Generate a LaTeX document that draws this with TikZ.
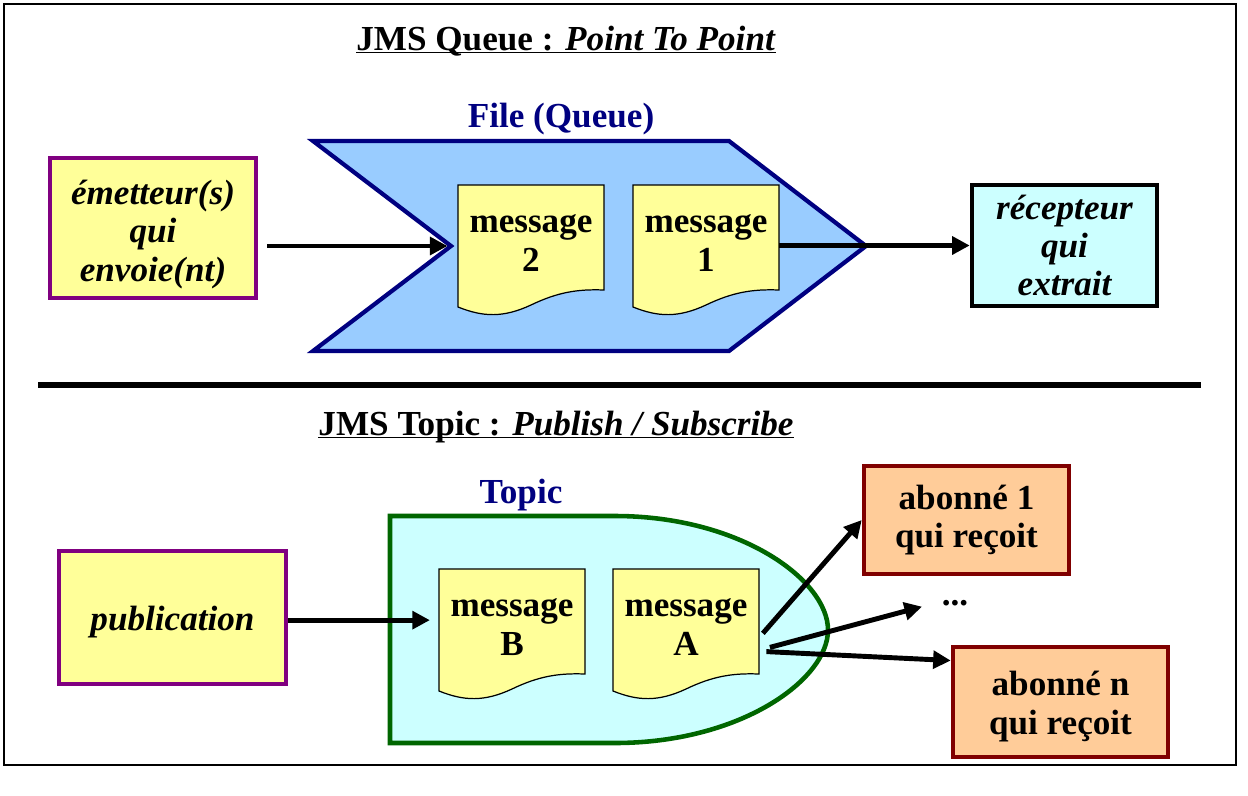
\documentclass[tikz,border=0pt]{standalone}
\usepackage{fontspec}
\setmainfont{Liberation Serif}
\usetikzlibrary{arrows.meta}
\definecolor{qblue}{HTML}{99CCFF}
\definecolor{qnavy}{HTML}{000080}
\definecolor{paleyellow}{HTML}{FFFF99}
\definecolor{boxpurple}{HTML}{800080}
\definecolor{palecyan}{HTML}{CCFFFF}
\definecolor{topicgreen}{HTML}{006600}
\definecolor{paleorange}{HTML}{FFCC99}
\definecolor{boxred}{HTML}{800000}
\newcommand{\bigbf}{\bfseries\fontsize{20}{21.8}\selectfont}

\begin{document}
\begin{tikzpicture}[x=0.02cm,y=-0.02cm,font=\bigbf,
    box/.style={draw,line width=2.6pt,align=center,inner sep=0pt},
    doc/.style={draw=black,line width=0.7pt,fill=paleyellow},
    msg/.style={align=center,minimum width=2.92cm,inner sep=0pt},
    arr/.style={line width=2.8pt,-{Triangle[length=10pt,width=10pt]}}]
  \useasboundingbox (0,0) rectangle (1248,795);
  \draw[line width=0.8pt] (4,4) rectangle (1236,765);

  % point to point
  \node[anchor=base] (qtitle) at (566,50) {\underline{\smash{JMS Queue : \textit{Point To Point}}}};
  \node[text=qnavy] (qlabel) at (561,119) {File (Queue)};
  \filldraw[fill=qblue,draw=qnavy,line width=2.4pt] (313,141) -- (729,141) -- (866,246)
    -- (729,351) -- (313,351) -- (451,246) -- cycle;
  \coordinate (notch) at (451,246);
  \begin{scope}[shift={(458,185)}]
    \filldraw[doc] (0,0) -- (146,0) -- (146,105) .. controls (120,104) and (100,107) .. (73,120)
      .. controls (45,133) and (25,132) .. (0,122) -- cycle;
    \node[msg] (msgtwo) at (73,58) {message\\2};
  \end{scope}
  \begin{scope}[shift={(633,185)}]
    \filldraw[doc] (0,0) -- (146,0) -- (146,105) .. controls (120,104) and (100,107) .. (73,120)
      .. controls (45,133) and (25,132) .. (0,122) -- cycle;
    \node[msg] (msgone) at (73,58) {message\\1};
  \end{scope}
  \node[box,draw=boxpurple,fill=paleyellow,minimum width=4.12cm,minimum height=2.8cm,
    font=\bigbf\itshape] (emit) at (153,228) {\rule{0pt}{21pt}émetteur(s)\\qui\\envoie(nt)};
  \node[box,draw=black,fill=palecyan,minimum width=3.7cm,minimum height=2.42cm,
    font=\bigbf\itshape] (recv) at (1064.5,245.5) {récepteur\\qui\\extrait};
  \draw[arr,shorten <=5pt,shorten >=2pt] (emit.east |- notch) -- (notch);
  \draw[arr] (msgone.east |- recv.west) -- (recv.west);

  \draw[line width=3pt] (38,385) -- (1201,385);

  % publish / subscribe
  \node[anchor=base] (ttitle) at (556,435) {\underline{\smash{JMS Topic : \textit{Publish / Subscribe}}}};
  \node[text=qnavy] (tlabel) at (521,495) {Topic};
  \filldraw[fill=palecyan,draw=topicgreen,line width=2.6pt] (390,516) -- (615,516)
    .. controls (740,516) and (828,580) .. (828,630)
    .. controls (828,680) and (740,743) .. (615,743) -- (390,743) -- cycle;
  \begin{scope}[shift={(439,569)}]
    \filldraw[doc] (0,0) -- (146,0) -- (146,105) .. controls (120,104) and (100,107) .. (73,120)
      .. controls (45,133) and (25,132) .. (0,122) -- cycle;
    \node[msg] (msgB) at (73,58) {message\\B};
  \end{scope}
  \begin{scope}[shift={(613,569)}]
    \filldraw[doc] (0,0) -- (146,0) -- (146,105) .. controls (120,104) and (100,107) .. (73,120)
      .. controls (45,133) and (25,132) .. (0,122) -- cycle;
    \node[msg] (msgA) at (73,58) {message\\A};
  \end{scope}
  \node[box,draw=boxpurple,fill=paleyellow,minimum width=4.54cm,minimum height=2.66cm,
    font=\bigbf\itshape] (pub) at (172.5,617.5) {\rule{0pt}{19pt}publication};
  \node[box,draw=boxred,fill=paleorange,minimum width=4.1cm,minimum height=2.16cm] (subone) at (966.5,520) {abonné 1\\qui reçoit};
  \node[box,draw=boxred,fill=paleorange,minimum width=4.3cm,minimum height=2.2cm] (subn) at (1060.5,702) {\rule{0pt}{19pt}abonné n\\qui reçoit};
  \node (dots) at (955,603) {...};
  \draw[arr,shorten >=5pt] ([yshift=-1.5pt]pub.east) -- ([yshift=-1.5pt]pub.east -| msgB.west);
  \draw[arr] ([xshift=2pt,yshift=-3.6pt]msgA.east) -- (subone.west);
  \draw[arr,shorten >=8pt] ([xshift=6pt,yshift=-11.6pt]msgA.east) -- (dots.west);
  \draw[arr] ([xshift=4pt,yshift=-14pt]msgA.east) -- ([yshift=-9pt]subn.north west);
\end{tikzpicture}
\end{document}
